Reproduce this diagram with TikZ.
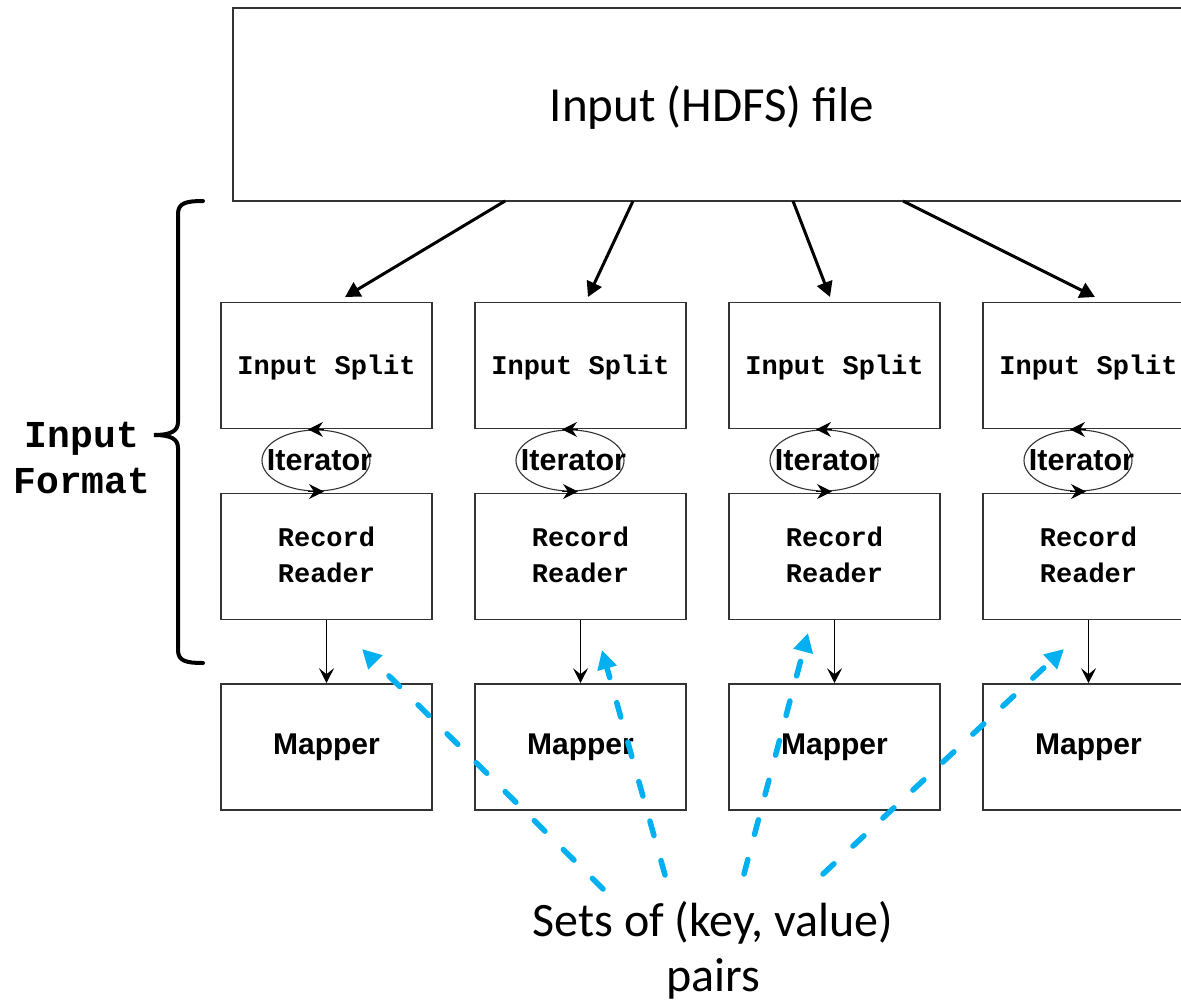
\documentclass[tikz,border=0pt]{standalone}
\usepackage{fontspec}
\setmainfont{Carlito}
\newfontfamily\monofnt{Liberation Mono}
\newfontfamily\sansfnt{Liberation Sans}
\usetikzlibrary{arrows.meta,calc,shapes.geometric}
\definecolor{dashblue}{HTML}{00B0F0}
\definecolor{edge}{HTML}{333333}
\begin{document}
\begin{tikzpicture}[x=1pt,y=-1pt,
  box/.style={draw=edge, line width=1.6pt, minimum width=211pt, minimum height=126pt, inner sep=0pt, align=center},
  monotext/.style={font=\monofnt\bfseries\fontsize{27}{36}\selectfont},
  maptext/.style={font=\sansfnt\bfseries\fontsize{30}{36}\selectfont},
  iter/.style={draw=edge, ellipse, line width=1.1pt, minimum width=108pt, minimum height=61pt, inner sep=0pt},
  itertext/.style={inner sep=0pt, font=\sansfnt\bfseries\fontsize{30.5}{36}\selectfont},
  iterarrow/.style={line width=1.1pt, -{Stealth[length=15pt,width=15pt,inset=5pt]}},
  feed/.style={line width=1.6pt, -{Stealth[length=15pt,width=15pt,inset=6pt]}},
  split/.style={line width=3pt, -{Triangle[length=15pt,width=16pt]}},
  kv/.style={draw=dashblue, line width=5.5pt, line cap=round, dash pattern=on 15pt off 26pt, -{Triangle[length=19pt,width=19pt]}}
]
\useasboundingbox (0,0) rectangle (1181,1004);
\clip (0,0) rectangle (1181,1004);

% top file box
\node[draw=edge, line width=1.6pt, minimum width=958pt, minimum height=193pt, inner sep=0pt] (file) at (712,104.5) {};
\node[font=\fontsize{49}{55}\selectfont, inner sep=0pt] (filetext) at (712,108) {Input (HDFS) file};

% columns
\foreach \i/\cx in {1/326.5,2/580.5,3/834.5,4/1088.5}{
  \node[box] (is\i) at (\cx,365.5) {};
  \node[monotext, inner sep=0pt] (ist\i) at (\cx,367.5) {Input Split};
  \node[box] (rr\i) at (\cx,556.5) {};
  \node[monotext, align=center, inner sep=0pt] (rrt\i) at (\cx,554.5) {Record\\Reader};
  \node[box, maptext] (map\i) at (\cx,747) {Mapper};
  \node[iter] (it\i) at ($(\cx,460.5)+(-10.5,0)$) {};
  \node[itertext] (itt\i) at ($(\cx,460)+(-7,0)$) {Iterator};
  \draw[iterarrow] ($(it\i.north)+(8,0)$) -- ($(it\i.north)+(-8,0)$);
  \draw[iterarrow] ($(it\i.south)+(-8,0)$) -- ($(it\i.south)+(8,0)$);
  \draw[feed] (rr\i.south) -- (map\i.north);
}

% arrows from the file to the splits
\coordinate (s1) at (505,201); \coordinate (e1) at (345,297);
\coordinate (s2) at (633,201); \coordinate (e2) at (588,297);
\coordinate (s3) at (793,201); \coordinate (e3) at (830,297);
\coordinate (s4) at (903,201); \coordinate (e4) at (1095,297);
\foreach \i in {1,2,3,4}{ \draw[split] (s\i) -- (e\i); }

% brace and label
\draw[line width=4pt, line cap=round]
  (203,201) .. controls (186,201) and (178,203) .. (178,214) -- (178,422)
  .. controls (178,431) and (171,435) .. (154,435)
  .. controls (171,435) and (178,439) .. (178,448) -- (178,650)
  .. controls (178,661) and (186,663) .. (203,663);
\node[font=\monofnt\bfseries\fontsize{38}{46}\selectfont, align=center] (fmt) at (82,458) {Input\\Format};

% key/value label and dashed arrows
\node[font=\fontsize{48}{55}\selectfont, align=center, inner sep=0pt] (sets) at (713,950) {Sets of (key, value)\\pairs};
\coordinate (d1s) at (603,889); \coordinate (d1e) at (362,649);
\coordinate (d2s) at (665,875); \coordinate (d2e) at (602,650);
\coordinate (d3s) at (744,874); \coordinate (d3e) at (808,633);
\coordinate (d4s) at (823,874); \coordinate (d4e) at (1064,649);
\foreach \i in {1,2,3,4}{ \draw[kv] (d\i s) -- (d\i e); }
\end{tikzpicture}
\end{document}
